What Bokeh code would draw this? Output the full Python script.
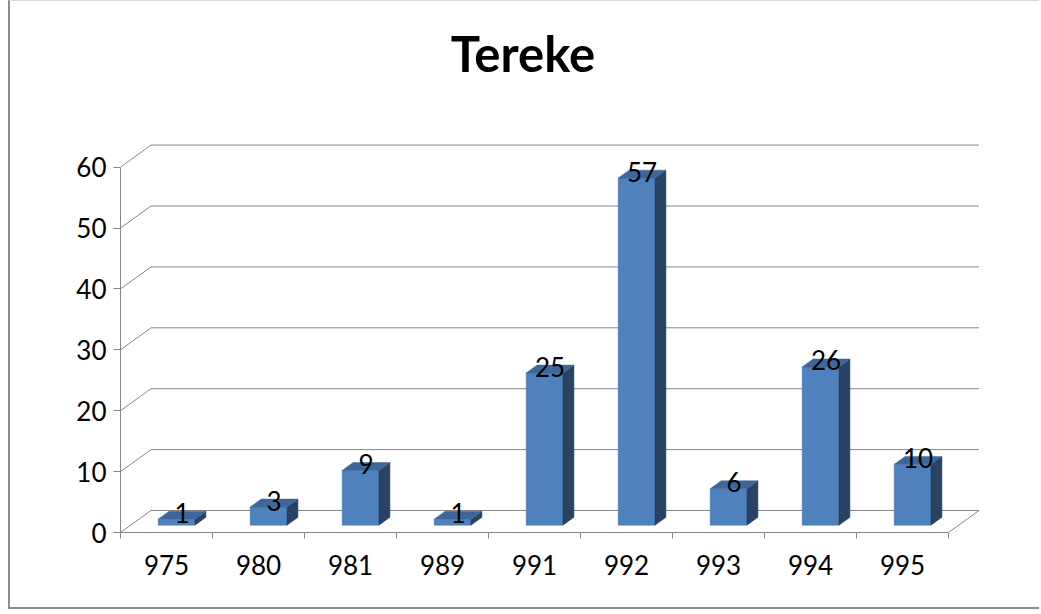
from bokeh.plotting import figure
from bokeh.models import Range1d, FixedTicker, LinearAxis
from bokeh.core.properties import value
from bokeh.embed import file_html
from bokeh.resources import INLINE

# ---- data ----
chart_title = "Tereke"
categories = ["975", "980", "981", "989", "991", "992", "993", "994", "995"]
counts = [1, 3, 9, 1, 25, 57, 6, 26, 10]
value_ticks = [0, 10, 20, 30, 40, 50, 60]

# ---- geometry / style ----
FONT = "Lato"
PX = 6.09          # pixels per value unit
CAT = 92.0         # pixels per category
DX = 30.5 / CAT    # depth offset in x units
DY = 22.0 / PX     # depth offset in value units
F0, F1 = 0.33, 0.69   # bar depth (front/back fraction)
BW = 0.40          # bar width in category units
GRID = "#868686"

W, H = 1031, 609
LEFT, BOTTOM = 110, 78
FRAME_BOTTOM_PAGE = 532.0
n = len(categories)

p = figure(width=W, height=H, output_backend="svg", toolbar_location=None,
           title=None, x_axis_type=None, y_axis_type=None,
           x_range=Range1d(0, (W - LEFT) / CAT), y_range=Range1d(0, (H - BOTTOM) / PX),
           min_border_left=LEFT, min_border_bottom=BOTTOM, min_border_top=0, min_border_right=0)
p.outline_line_color = None
p.background_fill_color = "white"
p.border_fill_color = "white"
p.styles = {"margin-left": "8px", "border-left": "2px solid #8c8c8c",
            "border-top": "1px solid #d9d9d9", "border-bottom": "2px solid #8c8c8c"}

# walls: side-wall diagonals and back-wall gridlines
vmax = value_ticks[-1]
gx, gy = [], []
for v in value_ticks:
    gx.append([0, DX, n + DX]); gy.append([v, v + DY, v + DY])
gx.append([n, n + DX]); gy.append([0, DY])
p.multi_line(gx, gy, line_color=GRID, line_width=1)

# bars
front_x, front_y, side_x, side_y, top_x, top_y = [], [], [], [], [], []
lab_x, lab_y = [], []
dd = (F1 - F0) * DX
for i, v in enumerate(counts):
    cx = i + 0.5
    x0 = cx - BW / 2 + F0 * DX
    x1 = cx + BW / 2 + F0 * DX
    b0 = F0 * DY
    b1 = F1 * DY
    front_x.append([x0, x1, x1, x0]); front_y.append([b0, b0, v + b0, v + b0])
    side_x.append([x1, x1 + dd, x1 + dd, x1]); side_y.append([b0, b1, v + b1, v + b0])
    top_x.append([x0, x1, x1 + dd, x0 + dd]); top_y.append([v + b0, v + b0, v + b1, v + b1])
    lab_x.append(cx + (F0 + F1) / 2 * DX)
    lab_y.append(v + (F0 + F1) / 2 * DY + 2.5 / PX)

p.patches(front_x, front_y, fill_color="#4F81BD", line_color="#4A7AB4", line_width=0.5)
p.patches(side_x, side_y, fill_color="#2A4262", line_color="#2A4262", line_width=0.5)
p.patches(top_x, top_y, fill_color="#3E6799", line_color="#3E6799", line_width=0.5)

p.text(x=lab_x, y=lab_y, text=[str(c) for c in counts], text_font=value(FONT),
       text_font_size="26px", text_color="black", text_align="center",
       text_baseline="alphabetic")

# title
p.text(x=[(522.5 - 120) / CAT], y=[(FRAME_BOTTOM_PAGE - 52) / PX], text=[chart_title],
       text_font=value(FONT), text_font_size="49px", text_font_style="bold",
       text_color="black", text_align="center", text_baseline="alphabetic")

# axes
yax = LinearAxis(ticker=FixedTicker(ticks=value_ticks), bounds=(0, vmax))
yax.axis_line_color = GRID
yax.major_tick_line_color = GRID
yax.major_tick_out = 7
yax.major_tick_in = 0
yax.minor_tick_out = 0
yax.minor_tick_in = 0
yax.major_label_text_font = FONT
yax.major_label_text_font_size = "26px"
yax.major_label_text_color = "black"
yax.major_label_standoff = 7
p.add_layout(yax, "left")

centers = [i + 0.5 for i in range(n)]
xax = LinearAxis(ticker=FixedTicker(ticks=centers, minor_ticks=list(range(n + 1))),
                 bounds=(0, n))
xax.major_label_overrides = {c: lab for c, lab in zip(centers, categories)}
xax.axis_line_color = GRID
xax.major_tick_out = 0
xax.major_tick_in = 0
xax.minor_tick_line_color = GRID
xax.minor_tick_out = 6
xax.minor_tick_in = 0
xax.major_label_text_font = FONT
xax.major_label_text_font_size = "26px"
xax.major_label_text_color = "black"
xax.major_label_standoff = 16
p.add_layout(xax, "below")

p.xgrid.visible = False
p.ygrid.visible = False

open("out.html", "w").write(file_html(p, INLINE))
